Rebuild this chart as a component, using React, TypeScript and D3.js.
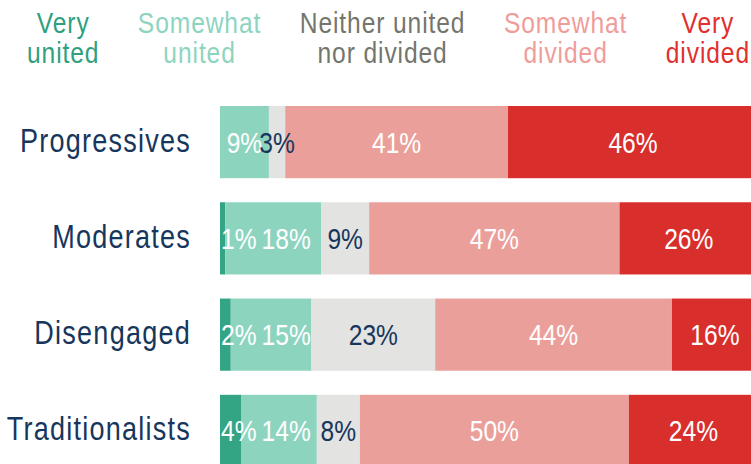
import * as d3 from "d3";
import {useEffect, useRef} from "react";

// 行 = グループ、列 = 回答
const groups = ["Progressives", "Moderates", "Disengaged", "Traditionalists"];
const legendLines = [
  ["Very", "united"],
  ["Somewhat", "united"],
  ["Neither united", "nor divided"],
  ["Somewhat", "divided"],
  ["Very", "divided"],
];
const veryUnited = [0, 1, 2, 4];
const somewhatUnited = [9, 18, 15, 14];
const neither = [3, 9, 23, 8];
const somewhatDivided = [41, 47, 44, 50];
const veryDivided = [46, 26, 16, 24];
const series = [veryUnited, somewhatUnited, neither, somewhatDivided, veryDivided];

const barColors = ["#33a585", "#8dd4bf", "#e3e3e1", "#eb9f9b", "#d92f2c"];
const legendColors = ["#2f9f80", "#8dd4bf", "#74756c", "#f09c9b", "#e0302e"];
const labelColors = ["#ffffff", "#ffffff", "#17365c", "#ffffff", "#ffffff"];
const navy = "#17365c";

const App = () => {
  const width = 751;
  const height = 464;
  const barLeft = 220;
  const barRight = 758;
  const font = "'Liberation Sans', Arial, sans-serif";
  const sx = 0.82; // Narrow風に横だけ縮める

  const svgRef = useRef<SVGSVGElement>(null!);

  useEffect(() => {
    const svg = d3.select(svgRef.current);
    svg.selectAll("*").remove();

    const y = d3.scaleBand()
      .domain(groups)
      .range([106, 467])
      .paddingInner(0.25)
      .paddingOuter(0);

    const place = (x: number, yy: number) => `translate(${x},${yy}) scale(${sx},1)`;

    // 凡例 文字幅を測ってから横に並べる
    const legend = svg.append("g");
    const items = legend.selectAll("g").data(legendLines).enter().append("g");
    items.each(function (lines, k) {
      const g = d3.select(this);
      lines.forEach((line, j) => {
        g.append("text")
          .attr("transform", place(0, 33 + j * 29.7))
          .attr("text-anchor", "middle")
          .attr("fill", legendColors[k])
          .attr("font-family", font)
          .attr("font-size", "30px")
          .attr("letter-spacing", "1.1px")
          .text(line);
      });
    });
    const widths: number[] = [];
    items.each(function () {
      let w = 0;
      d3.select(this).selectAll<SVGTextElement, unknown>("text").each(function () {
        w = Math.max(w, this.getComputedTextLength() * sx);
      });
      widths.push(w);
    });
    const legendStart = 27;
    const legendEnd = 750;
    const gap = (legendEnd - legendStart - d3.sum(widths)) / (widths.length - 1);
    let cursor = legendStart;
    items.attr("transform", (_, k) => {
      const cx = cursor + widths[k] / 2;
      cursor += widths[k] + gap;
      return `translate(${cx},0)`;
    });

    // グループ名
    svg.append("g").selectAll("text").data(groups).enter()
      .append("text")
      .attr("transform", d => place(191, y(d)! + y.bandwidth() / 2 + 9.5))
      .attr("text-anchor", "end")
      .attr("fill", navy)
      .attr("font-family", font)
      .attr("font-size", "33px")
      .attr("letter-spacing", "1.5px")
      .text(d => d);

    // 各行 合計で正規化
    groups.forEach((group, i) => {
      const values = series.map(s => s[i]);
      const x = d3.scaleLinear().domain([0, d3.sum(values)]).range([barLeft, barRight]);
      const ends = Array.from(d3.cumsum(values));
      const segs = values.map((v, k) => ({v, k, x0: x(ends[k] - v), x1: x(ends[k])}));
      const row = svg.append("g");

      row.selectAll("rect").data(segs.filter(s => s.v > 0)).enter()
        .append("rect")
        .attr("x", d => d.x0)
        .attr("y", y(group)!)
        .attr("width", d => d.x1 - d.x0)
        .attr("height", y.bandwidth())
        .attr("fill", d => barColors[d.k]);

      const cy = y(group)! + y.bandwidth() / 2 + 10.5;
      const labels = row.selectAll<SVGTextElement, typeof segs[0]>("text.val")
        .data(segs.filter(s => s.v > 0)).enter()
        .append("text")
        .attr("class", "val")
        .attr("fill", d => labelColors[d.k])
        .attr("font-family", font)
        .attr("font-size", "30px")
        .text(d => `${d.v}%`);

      // 小さい区間のラベルは左端から押し出す
      let prevRight = -Infinity;
      let prevMoved = false;
      labels.each(function (d, idx) {
        const w = this.getComputedTextLength() * sx;
        let left = (d.x0 + d.x1) / 2 - w / 2;
        let moved = false;
        if (idx === 0 && left < barLeft + 1) {
          left = barLeft + 1;
          moved = true;
        }
        if (prevMoved && left < prevRight + 5) {
          left = prevRight + 5;
          moved = true;
        }
        d3.select(this).attr("transform", place(left, cy));
        prevRight = left + w;
        prevMoved = moved;
      });
    });
  }, []);

  return (
    <div style={{position: "absolute", left: 0, top: 0, width, height, overflow: "hidden", background: "#fff"}}>
      <svg width={width} height={height} ref={svgRef}/>
    </div>
  );
};

export default App;
